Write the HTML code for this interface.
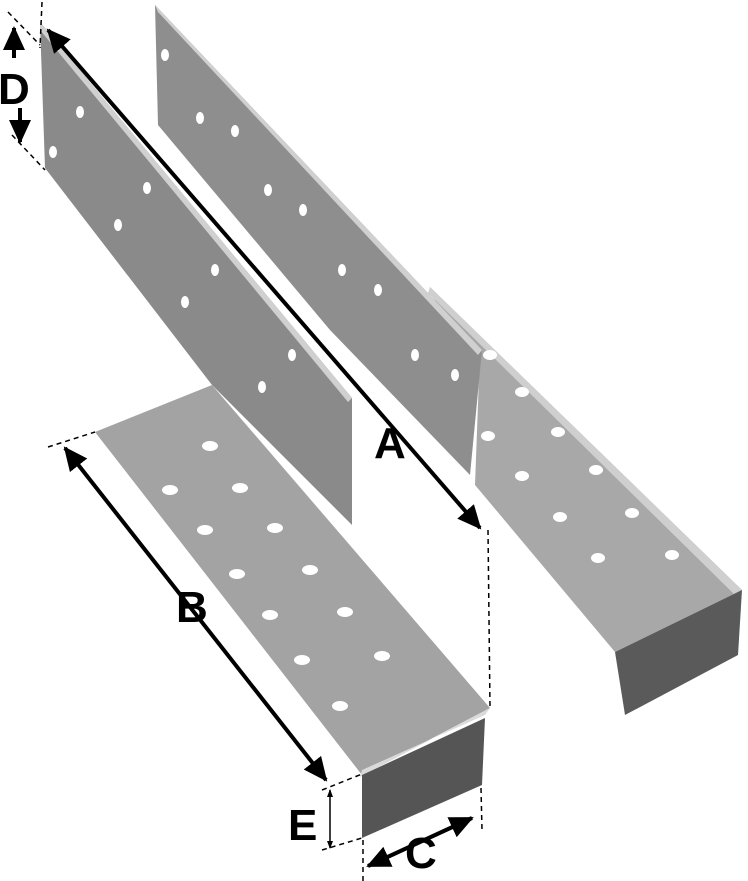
<!DOCTYPE html>
<html><head><style>
html,body{margin:0;padding:0;background:#fff;width:748px;height:881px;overflow:hidden}
svg{display:block}
text{font-family:"Liberation Sans",sans-serif;font-size:44px;fill:#000;font-weight:bold}
</style></head><body>
<svg width="748" height="881" viewBox="0 0 748 881">
<defs>
<marker id="ah" markerWidth="24" markerHeight="22" refX="22" refY="11" orient="auto-start-reverse" markerUnits="userSpaceOnUse">
<path d="M0,0 L24,11 L0,22 z" fill="#000"/></marker>
<marker id="ahs" markerWidth="8" markerHeight="8" refX="7" refY="4" orient="auto-start-reverse" markerUnits="userSpaceOnUse">
<path d="M0,1 L8,4 L0,7 z" fill="#000"/></marker>
</defs>
<!-- right bracket base -->
<polygon points="430,287 742,590 615,652 475,485 480,350 445,330" fill="#a8a8a8"/>
<polygon points="430,287 742,590 738,598 428,293" fill="#cfcfcf"/>
<polygon points="615,652 742,590 738,655 625,715" fill="#5a5a5a"/>
<!-- right bracket plate -->
<polygon points="155,5 482,350 470,475 330,330 158,125" fill="#8e8e8e"/>
<polygon points="155,5 482,350 478,355 158,12" fill="#d0d0d0"/>
<!-- left bracket base -->
<polygon points="95,432 212,385 490,708 362,775" fill="#a3a3a3"/>
<polygon points="362,770 485,715 490,708 360,777" fill="#dadada"/>
<polygon points="362,775 485,718 482,785 362,838" fill="#555"/>
<!-- left bracket plate -->
<polygon points="40,22 352,398 352,525 212,385 45,168" fill="#8a8a8a"/>
<polygon points="40,22 352,398 348,402 40,30" fill="#d0d0d0"/>
<!-- holes -->
<g fill="#fff">
<ellipse cx="80" cy="112" rx="4" ry="6"/><ellipse cx="53" cy="152" rx="4" ry="6"/>
<ellipse cx="147" cy="188" rx="4" ry="6"/><ellipse cx="118" cy="225" rx="4" ry="6"/>
<ellipse cx="215" cy="270" rx="4" ry="6"/><ellipse cx="185" cy="302" rx="4" ry="6"/>
<ellipse cx="292" cy="355" rx="4" ry="6"/><ellipse cx="262" cy="387" rx="4" ry="6"/>
<ellipse cx="165" cy="55" rx="4" ry="6"/><ellipse cx="200" cy="118" rx="4" ry="6"/><ellipse cx="235" cy="131" rx="4" ry="6"/>
<ellipse cx="268" cy="190" rx="4" ry="6"/><ellipse cx="303" cy="210" rx="4" ry="6"/>
<ellipse cx="342" cy="270" rx="4" ry="6"/><ellipse cx="378" cy="290" rx="4" ry="6"/>
<ellipse cx="415" cy="355" rx="4" ry="6"/><ellipse cx="455" cy="375" rx="4" ry="6"/>
<ellipse cx="210" cy="446" rx="8" ry="5"/><ellipse cx="170" cy="490" rx="8" ry="5"/><ellipse cx="240" cy="488" rx="8" ry="5"/>
<ellipse cx="205" cy="530" rx="8" ry="5"/><ellipse cx="275" cy="528" rx="8" ry="5"/>
<ellipse cx="237" cy="574" rx="8" ry="5"/><ellipse cx="310" cy="570" rx="8" ry="5"/>
<ellipse cx="270" cy="615" rx="8" ry="5"/><ellipse cx="345" cy="612" rx="8" ry="5"/>
<ellipse cx="302" cy="660" rx="8" ry="5"/><ellipse cx="382" cy="656" rx="8" ry="5"/>
<ellipse cx="340" cy="706" rx="8" ry="5"/>
<ellipse cx="490" cy="355" rx="7" ry="5"/><ellipse cx="522" cy="392" rx="7" ry="5"/><ellipse cx="488" cy="436" rx="7" ry="5"/>
<ellipse cx="558" cy="432" rx="7" ry="5"/><ellipse cx="522" cy="476" rx="7" ry="5"/><ellipse cx="596" cy="470" rx="7" ry="5"/>
<ellipse cx="560" cy="517" rx="7" ry="5"/><ellipse cx="632" cy="513" rx="7" ry="5"/><ellipse cx="598" cy="558" rx="7" ry="5"/>
<ellipse cx="672" cy="555" rx="7" ry="5"/>
</g>
<!-- dimension lines -->
<g stroke="#000" stroke-width="4" fill="none">
<line x1="48" y1="30" x2="480" y2="528" marker-start="url(#ah)" marker-end="url(#ah)"/>
<line x1="65" y1="448" x2="326" y2="780" marker-start="url(#ah)" marker-end="url(#ah)"/>
<line x1="368" y1="866" x2="472" y2="818" marker-start="url(#ah)" marker-end="url(#ah)"/>
<line x1="14" y1="28" x2="14" y2="58" marker-start="url(#ah)"/>
<line x1="20" y1="108" x2="20" y2="142" marker-end="url(#ah)"/>
</g>
<g stroke="#000" stroke-width="1.5" fill="none">
<line x1="330" y1="790" x2="330" y2="848" marker-start="url(#ahs)" marker-end="url(#ahs)"/>
</g>
<g stroke="#000" stroke-width="1.5" stroke-dasharray="5,4" fill="none">
<line x1="42" y1="2" x2="40" y2="48"/>
<line x1="8" y1="12" x2="40" y2="45"/>
<line x1="12" y1="135" x2="45" y2="170"/>
<line x1="48" y1="447" x2="95" y2="432"/>
<line x1="488" y1="530" x2="490" y2="708"/>
<line x1="322" y1="790" x2="362" y2="774"/>
<line x1="322" y1="850" x2="362" y2="838"/>
<line x1="363" y1="840" x2="363" y2="881"/>
<line x1="481" y1="788" x2="482" y2="830"/>
</g>
<text x="374" y="458">A</text>
<text x="176" y="622">B</text>
<text x="405" y="868">C</text>
<text x="-2" y="104">D</text>
<text x="288" y="840">E</text>
</svg>
</body></html>
